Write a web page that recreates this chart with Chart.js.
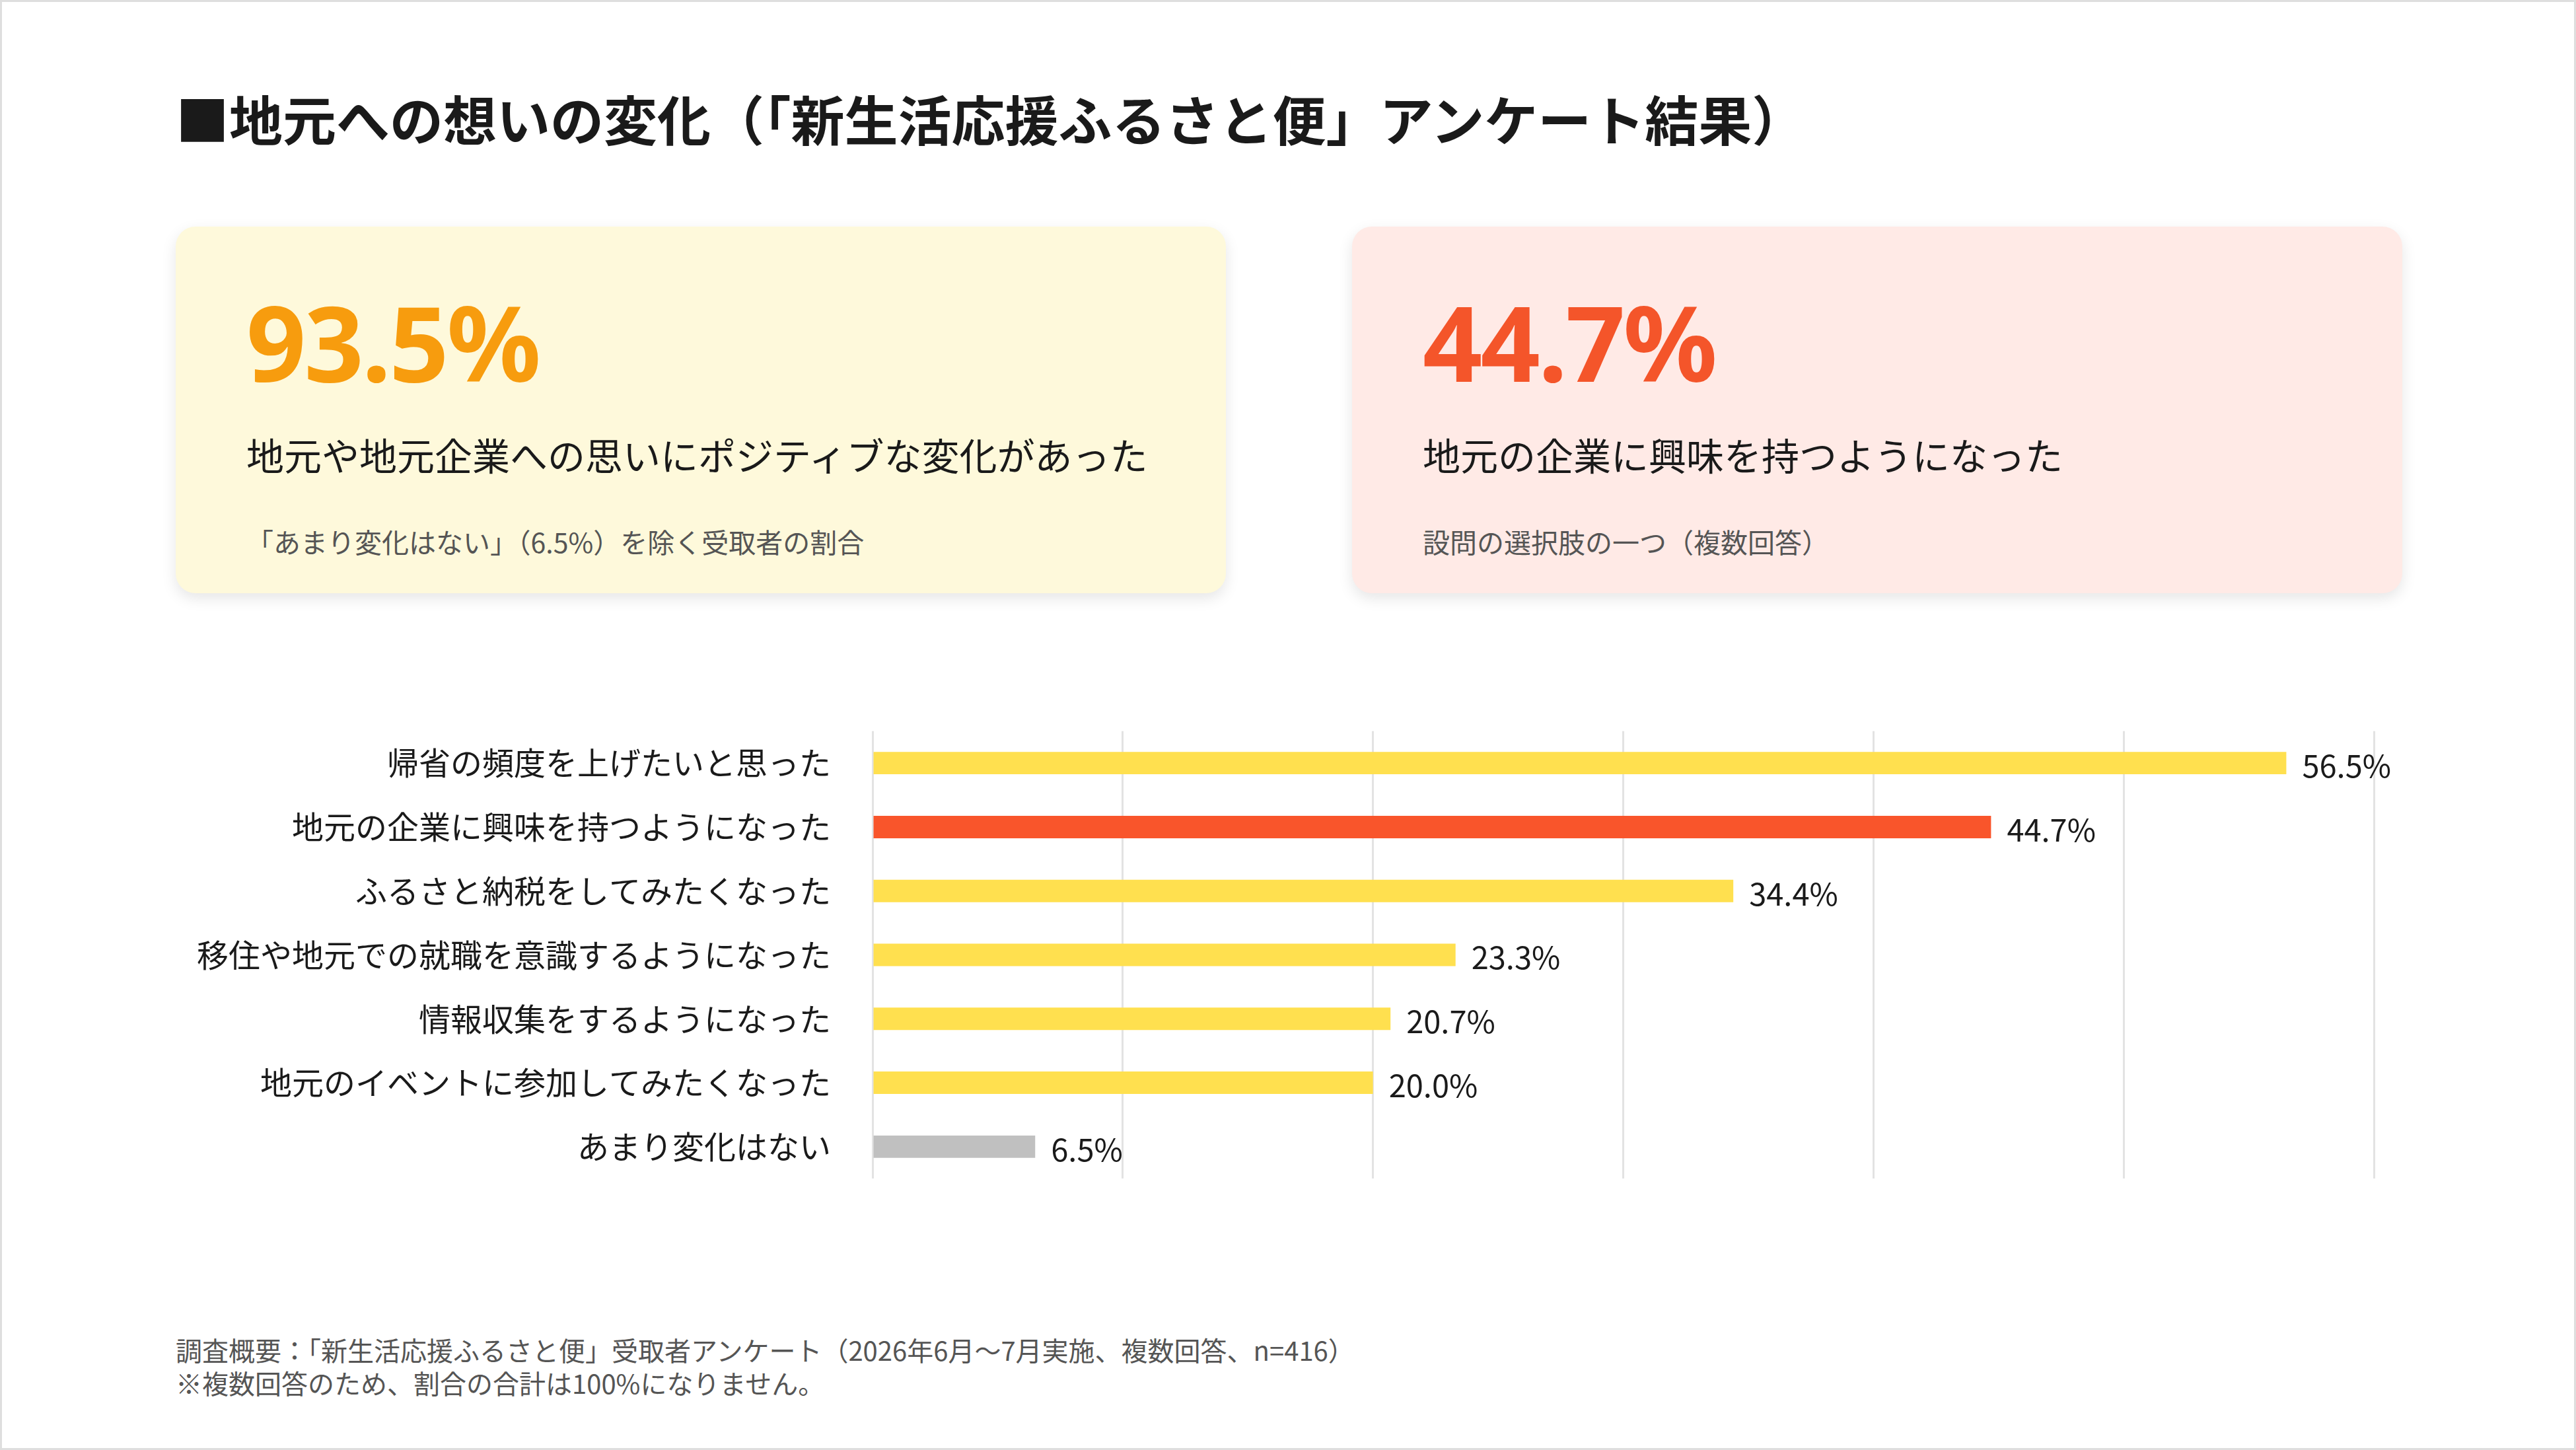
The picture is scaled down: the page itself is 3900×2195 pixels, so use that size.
<!DOCTYPE html>
<html lang="ja">
<head>
<meta charset="utf-8">
<script src="https://cdn.jsdelivr.net/npm/chart.js@4.4.1/dist/chart.umd.min.js"></script>
<style>
  html, body { margin: 0; padding: 0; }
  body {
    width: 3900px; height: 2195px; position: relative; background: #fff;
    font-family: "Noto Sans CJK JP", "Noto Sans", sans-serif; color: #1a1a1a;
    box-sizing: border-box; border: 3px solid #dedede; overflow: hidden;
  }
  .title { position: absolute; left: 263px; top: 116px; font-size: 81px; font-weight: 700; }
  .card {
    position: absolute; top: 340px; width: 1590px; height: 555px; border-radius: 30px;
    box-shadow: 0 8px 22px rgba(0,0,0,0.10);
  }
  .card .big { position: absolute; left: 107px; top: 95px; font-size: 158px; font-weight: 700; line-height: 1; font-family: "Noto Sans", sans-serif; letter-spacing: -3px; }
  .card .lead { position: absolute; left: 107px; top: 303px; font-size: 57px; }
  .card .note { position: absolute; left: 107px; top: 446px; font-size: 41px; color: #555; }
  .footer { position: absolute; left: 263px; top: 2015px; font-size: 40px; color: #555; line-height: 50px; }
  #wrap { position: absolute; left: 200px; top: 1020px; width: 3516px; height: 845px; }
</style>
</head>
<body>
<div class="title">■地元への想いの変化（「新生活応援ふるさと便」アンケート結果）</div>

<div class="card" style="left:263px; background:#fef9db;">
  <div class="big" style="color:#f79c0e;">93.5%</div>
  <div class="lead">地元や地元企業への思いにポジティブな変化があった</div>
  <div class="note">「あまり変化はない」（6.5%）を除く受取者の割合</div>
</div>
<div class="card" style="left:2044px; background:#ffeae6;">
  <div class="big" style="color:#f4552a;">44.7%</div>
  <div class="lead">地元の企業に興味を持つようになった</div>
  <div class="note">設問の選択肢の一つ（複数回答）</div>
</div>

<div id="wrap"><canvas id="myChart" width="3516" height="845"></canvas></div>

<div class="footer">調査概要：「新生活応援ふるさと便」受取者アンケート（2026年6月〜7月実施、複数回答、n=416）<br>※複数回答のため、割合の合計は100%になりません。</div>

<script>
const LABELS = [
    '帰省の頻度を上げたいと思った',
    '地元の企業に興味を持つようになった',
    'ふるさと納税をしてみたくなった',
    '移住や地元での就職を意識するようになった',
    '情報収集をするようになった',
    '地元のイベントに参加してみたくなった',
    'あまり変化はない'
];
const VALUES = [56.5, 44.7, 34.4, 23.3, 20.7, 20.0, 6.5];
const COLORS = ['#ffe04f', '#f9552b', '#ffe04f', '#ffe04f', '#ffe04f', '#ffe04f', '#c0c0c0'];

const valueLabels = {
    id: 'valueLabels',
    afterDatasetsDraw(chart) {
        var ctx = chart.ctx;
        var meta = chart.getDatasetMeta(0);
        ctx.save();
        ctx.font = '47px "Noto Sans CJK JP", sans-serif';
        ctx.fillStyle = '#1a1a1a';
        ctx.textBaseline = 'middle';
        meta.data.forEach(function(bar, i) {
            ctx.fillText(VALUES[i].toFixed(1) + '%', bar.x + 24, bar.y + 4);
        });
        ctx.restore();
    }
};

var ctx = document.getElementById('myChart');
var myChart = new Chart(ctx, {
    type: 'bar',
    data: {
        labels: LABELS,
        datasets: [{
            data: VALUES,
            backgroundColor: COLORS,
            categoryPercentage: 1,
            barPercentage: 0.35
        }]
    },
    options: {
        indexAxis: 'y',
        responsive: false,
        devicePixelRatio: 1,
        animation: false,
        layout: { padding: { top: 20, right: 125, bottom: 0 } },
        plugins: { legend: { display: false }, tooltip: { enabled: false } },
        scales: {
            x: {
                min: 0, max: 60,
                ticks: { display: false, stepSize: 10 },
                grid: { color: '#e3e3e3', lineWidth: 3, drawTicks: false },
                border: { display: false }
            },
            y: {
                grid: { display: false },
                border: { display: false },
                ticks: {
                    color: '#1a1a1a', padding: 55,
                    font: { size: 48, family: '"Noto Sans CJK JP", sans-serif' }
                },
                afterFit: function(scale) { scale.width = 1118; }
            }
        }
    },
    plugins: [valueLabels]
});
</script>
</body>
</html>
